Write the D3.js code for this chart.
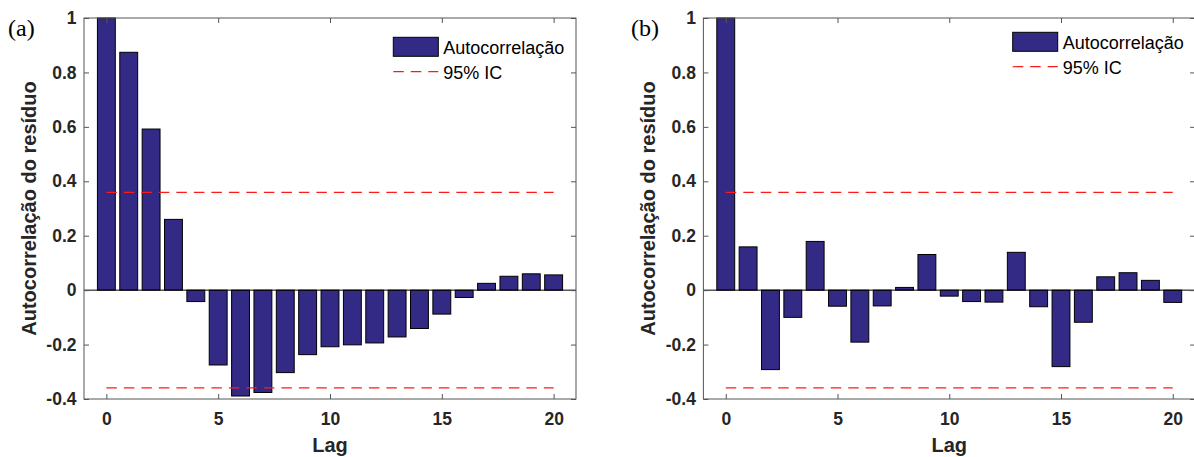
<!DOCTYPE html>
<html>
<head>
<meta charset="utf-8">
<script src="https://cdn.jsdelivr.net/npm/d3@7/dist/d3.min.js"></script>
<style>
  body { margin: 0; background: #fff; }
  svg { display: block; }
</style>
</head>
<body>
<svg></svg>
<script>
// lags and autocorrelation of the residual
let lags = [0, 1, 2, 3, 4, 5, 6, 7, 8, 9, 10, 11, 12, 13, 14, 15, 16, 17, 18, 19, 20]
let acfA = [1.0, 0.874, 0.592, 0.260, -0.042, -0.275, -0.389, -0.376, -0.303, -0.237, -0.208,
            -0.201, -0.194, -0.172, -0.141, -0.088, -0.027, 0.025, 0.051, 0.060, 0.056]
let acfB = [1.0, 0.159, -0.292, -0.100, 0.179, -0.059, -0.191, -0.058, 0.010, 0.131, -0.022,
            -0.042, -0.044, 0.139, -0.061, -0.281, -0.118, 0.049, 0.064, 0.036, -0.045]
let ciBounds = [0.359, -0.359]

let xTicks = [0, 5, 10, 15, 20]
let yTicks = [-0.4, -0.2, 0, 0.2, 0.4, 0.6, 0.8, 1]
let yTickLabels = ["-0.4", "-0.2", "0", "0.2", "0.4", "0.6", "0.8", "1"]
let legendLabels = ["Autocorrelação", "95% IC"]

let width = 1194
let height = 457
let plotTop = 18
let plotBottom = 399
let barColor = "#332a86"
let axisColor = "#555"
let sans = "'Liberation Sans', Arial, Helvetica, sans-serif"

let svg = d3.select("svg")
  .attr("width", width)
  .attr("height", height)

let panels = [
  { tag: "(a)", tagX: 8, left: 84, right: 576, values: acfA, legendTop: 37.3 },
  { tag: "(b)", tagX: 631, left: 703.4, right: 1195.1, values: acfB, legendTop: 32.3 }
]

let drawPanel = (p) => {
  let x = d3.scaleLinear().domain([-1, 21]).range([p.left, p.right])
  let y = d3.scaleLinear().domain([-0.4, 1]).range([plotBottom, plotTop])
  let bw = x(0.8) - x(0)
  let g = svg.append("g")

  // bars
  g.selectAll("rect.bar")
    .data(lags)
    .enter()
    .append("rect")
    .attr("class", "bar")
    .attr("x", (d) => x(d) - bw / 2)
    .attr("width", bw)
    .attr("y", (d, i) => y(Math.max(0, p.values[i])))
    .attr("height", (d, i) => Math.abs(y(p.values[i]) - y(0)))
    .attr("fill", barColor)
    .attr("stroke", "#000")
    .attr("stroke-width", 1)

  // zero baseline
  g.append("line")
    .attr("x1", p.left).attr("x2", p.right)
    .attr("y1", y(0)).attr("y2", y(0))
    .attr("stroke", "#000")
    .attr("stroke-width", 1)

  // confidence bounds
  g.selectAll("line.ci")
    .data(ciBounds)
    .enter()
    .append("line")
    .attr("class", "ci")
    .attr("x1", x(lags[0])).attr("x2", x(lags[lags.length - 1]))
    .attr("y1", (d) => y(d)).attr("y2", (d) => y(d))
    .attr("stroke", "#ff1a1a")
    .attr("stroke-width", 1.2)
    .attr("stroke-dasharray", "10.5,7")

  // axes
  let xAxis = d3.axisBottom(x).tickValues(xTicks).tickSize(-5).tickSizeOuter(0).tickPadding(14)
  let yAxis = d3.axisLeft(y).tickValues(yTicks).tickSize(-5).tickSizeOuter(0).tickPadding(7.5)
    .tickFormat((d, i) => yTickLabels[i])
  let xTop = d3.axisTop(x).tickValues(xTicks).tickSize(-5).tickSizeOuter(0).tickFormat("")
  let yRight = d3.axisRight(y).tickValues(yTicks).tickSize(-5).tickSizeOuter(0).tickFormat("")

  let axes = [
    g.append("g").attr("transform", "translate(0," + plotBottom + ")").call(xAxis),
    g.append("g").attr("transform", "translate(" + p.left + ",0)").call(yAxis),
    g.append("g").attr("transform", "translate(0," + plotTop + ")").call(xTop),
    g.append("g").attr("transform", "translate(" + p.right + ",0)").call(yRight)
  ]
  axes.forEach((a) => {
    a.select(".domain").remove()
    a.selectAll(".tick line").attr("stroke", axisColor)
    a.selectAll("text")
      .attr("font-family", sans)
      .attr("font-weight", "bold")
      .attr("font-size", "17.5px")
      .attr("fill", "#262626")
  })

  g.append("rect")
    .attr("x", p.left).attr("y", plotTop)
    .attr("width", p.right - p.left).attr("height", plotBottom - plotTop)
    .attr("fill", "none")
    .attr("stroke", axisColor)
    .attr("stroke-width", 1)

  // axis titles
  g.append("text")
    .attr("x", (p.left + p.right) / 2)
    .attr("y", 452)
    .attr("text-anchor", "middle")
    .attr("font-family", sans)
    .attr("font-weight", "bold")
    .attr("font-size", "20px")
    .attr("fill", "#262626")
    .text("Lag")

  g.append("text")
    .attr("transform", "translate(" + (p.left - 48) + "," + ((plotTop + plotBottom) / 2) + ") rotate(-90)")
    .attr("text-anchor", "middle")
    .attr("font-family", sans)
    .attr("font-weight", "bold")
    .attr("font-size", "20px")
    .attr("fill", "#262626")
    .text("Autocorrelação do resíduo")

  // panel tag
  g.append("text")
    .attr("x", p.tagX)
    .attr("y", 35.5)
    .attr("font-family", "'Liberation Serif', 'Times New Roman', serif")
    .attr("font-size", "24px")
    .attr("fill", "#000")
    .text(p.tag)

  // legend
  let lx = p.left + 309.3
  let ly = p.legendTop
  g.append("rect")
    .attr("x", lx).attr("y", ly)
    .attr("width", 45).attr("height", 19)
    .attr("fill", barColor)
    .attr("stroke", "#000")
  g.append("line")
    .attr("x1", lx).attr("x2", lx + 45)
    .attr("y1", ly + 34.4).attr("y2", ly + 34.4)
    .attr("stroke", "#ff1a1a")
    .attr("stroke-width", 1.2)
    .attr("stroke-dasharray", "10.5,7")
  g.selectAll("text.leg")
    .data(legendLabels)
    .enter()
    .append("text")
    .attr("class", "leg")
    .attr("x", lx + 50)
    .attr("y", (d, i) => ly + 17 + i * 24.7)
    .attr("font-family", sans)
    .attr("font-size", "18px")
    .attr("fill", "#000")
    .text((d) => d)
}

panels.forEach(drawPanel)
</script>
</body>
</html>
